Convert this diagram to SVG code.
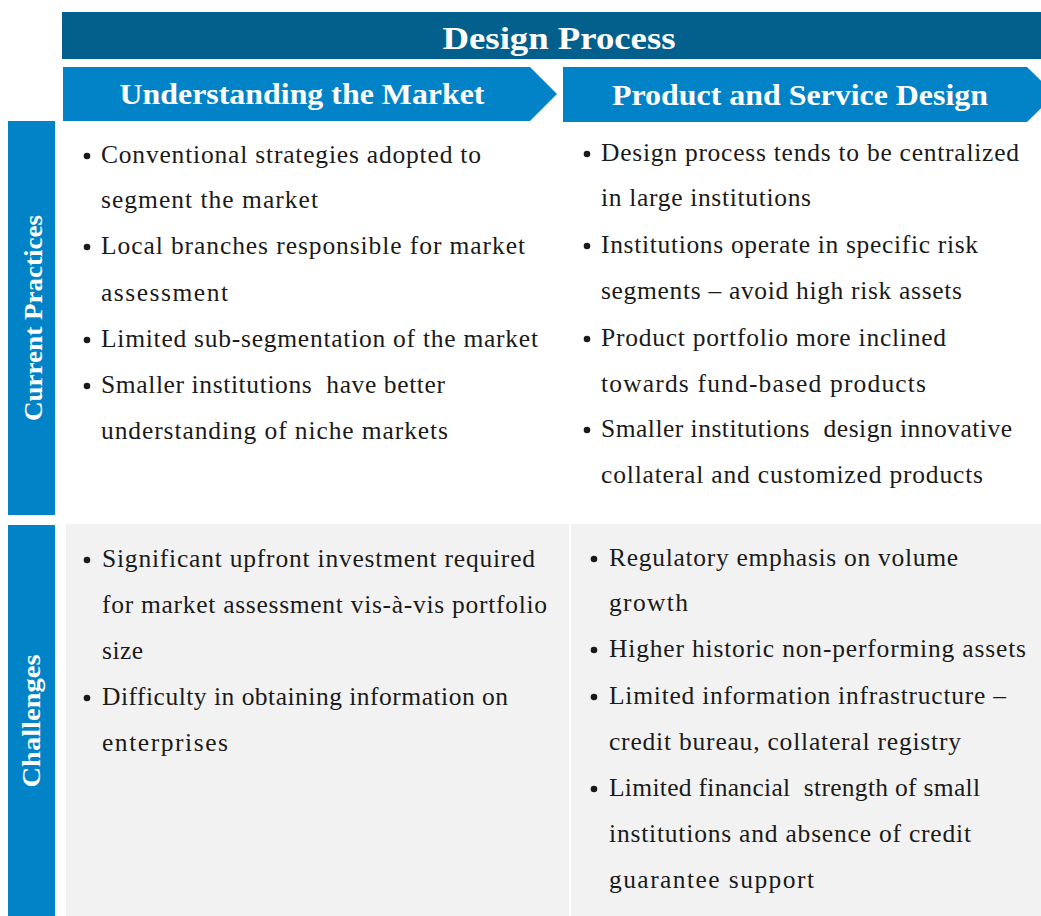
<svg xmlns="http://www.w3.org/2000/svg" width="1041" height="916" viewBox="0 0 1041 916">
<style>
.hd{font-family:"Liberation Serif",serif;font-weight:bold;fill:#ffffff;text-anchor:middle}
.tx{font-family:"Liberation Serif",serif;font-size:25.5px;fill:#1a1a1a;white-space:pre}
.bl{fill:#1a1a1a}
.band{fill:#0383c7}
.cell{fill:#f2f2f2}
</style>
<rect width="1041" height="916" fill="#ffffff"/>
<g id="title">
<rect x="62" y="12" width="979" height="47" fill="#035f8b"/>
<text class="hd" x="559" y="49" font-size="31" textLength="233" lengthAdjust="spacingAndGlyphs">Design Process</text>
</g>
<g id="col-market">
<polygon class="band" points="63,67 530,67 557,94 530,121 63,121"/>
<text class="hd" x="302" y="104" font-size="29" textLength="365" lengthAdjust="spacingAndGlyphs">Understanding the Market</text>
</g>
<g id="col-product">
<polygon class="band" points="563,67 1027,67 1055,94.5 1027,122 563,122"/>
<text class="hd" x="800" y="105" font-size="29" textLength="376" lengthAdjust="spacingAndGlyphs">Product and Service Design</text>
</g>
<g id="row-current">
<rect class="band" x="8" y="121" width="47" height="394"/>
<text class="hd" transform="translate(42,318) rotate(-90)" font-size="25" textLength="206" lengthAdjust="spacingAndGlyphs">Current Practices</text>
</g>
<g id="row-challenges">
<rect class="band" x="8" y="525" width="47" height="391"/>
<text class="hd" transform="translate(40,721) rotate(-90)" font-size="25" textLength="133" lengthAdjust="spacingAndGlyphs">Challenges</text>
</g>
<g id="cell-current-market">
<circle class="bl" cx="87" cy="156" r="3.3"/>
<text class="tx" x="101" y="163" textLength="380">Conventional strategies adopted to</text>
<text class="tx" x="101" y="208" textLength="217">segment the market</text>
<circle class="bl" cx="87" cy="247" r="3.3"/>
<text class="tx" x="101" y="254" textLength="424">Local branches responsible for market</text>
<text class="tx" x="101" y="301" textLength="127">assessment</text>
<circle class="bl" cx="87" cy="340" r="3.3"/>
<text class="tx" x="101" y="347" textLength="437">Limited sub-segmentation of the market</text>
<circle class="bl" cx="87" cy="386" r="3.3"/>
<text class="tx" x="101" y="393" textLength="344">Smaller institutions  have better</text>
<text class="tx" x="101" y="439" textLength="347">understanding of niche markets</text>
</g>
<g id="cell-current-product">
<circle class="bl" cx="587" cy="154" r="3.3"/>
<text class="tx" x="601" y="161" textLength="418">Design process tends to be centralized</text>
<text class="tx" x="601" y="206" textLength="210">in large institutions</text>
<circle class="bl" cx="587" cy="246" r="3.3"/>
<text class="tx" x="601" y="253" textLength="377">Institutions operate in specific risk</text>
<text class="tx" x="601" y="299" textLength="361">segments – avoid high risk assets</text>
<circle class="bl" cx="587" cy="339" r="3.3"/>
<text class="tx" x="601" y="346" textLength="345">Product portfolio more inclined</text>
<text class="tx" x="601" y="392" textLength="325">towards fund-based products</text>
<circle class="bl" cx="587" cy="430" r="3.3"/>
<text class="tx" x="601" y="437" textLength="411">Smaller institutions  design innovative</text>
<text class="tx" x="601" y="483" textLength="382">collateral and customized products</text>
</g>
<g id="cell-challenges-market">
<rect class="cell" x="66" y="524" width="503" height="392"/>
<circle class="bl" cx="87" cy="560" r="3.3"/>
<text class="tx" x="102" y="567" textLength="433">Significant upfront investment required</text>
<text class="tx" x="102" y="613" textLength="445">for market assessment vis-à-vis portfolio</text>
<text class="tx" x="102" y="659" textLength="41">size</text>
<circle class="bl" cx="87" cy="698" r="3.3"/>
<text class="tx" x="102" y="705" textLength="406">Difficulty in obtaining information on</text>
<text class="tx" x="102" y="751" textLength="126">enterprises</text>
</g>
<g id="cell-challenges-product">
<rect class="cell" x="571" y="524" width="470" height="392"/>
<circle class="bl" cx="594" cy="559" r="3.3"/>
<text class="tx" x="609" y="566" textLength="349">Regulatory emphasis on volume</text>
<text class="tx" x="609" y="611" textLength="79">growth</text>
<circle class="bl" cx="594" cy="650" r="3.3"/>
<text class="tx" x="609" y="657" textLength="417">Higher historic non-performing assets</text>
<circle class="bl" cx="594" cy="697" r="3.3"/>
<text class="tx" x="609" y="704" textLength="397">Limited information infrastructure –</text>
<text class="tx" x="609" y="750" textLength="352">credit bureau, collateral registry</text>
<circle class="bl" cx="594" cy="789" r="3.3"/>
<text class="tx" x="609" y="796" textLength="371">Limited financial  strength of small</text>
<text class="tx" x="609" y="842" textLength="362">institutions and absence of credit</text>
<text class="tx" x="609" y="888" textLength="205">guarantee support</text>
</g>
<g id="connectors"/>
</svg>
